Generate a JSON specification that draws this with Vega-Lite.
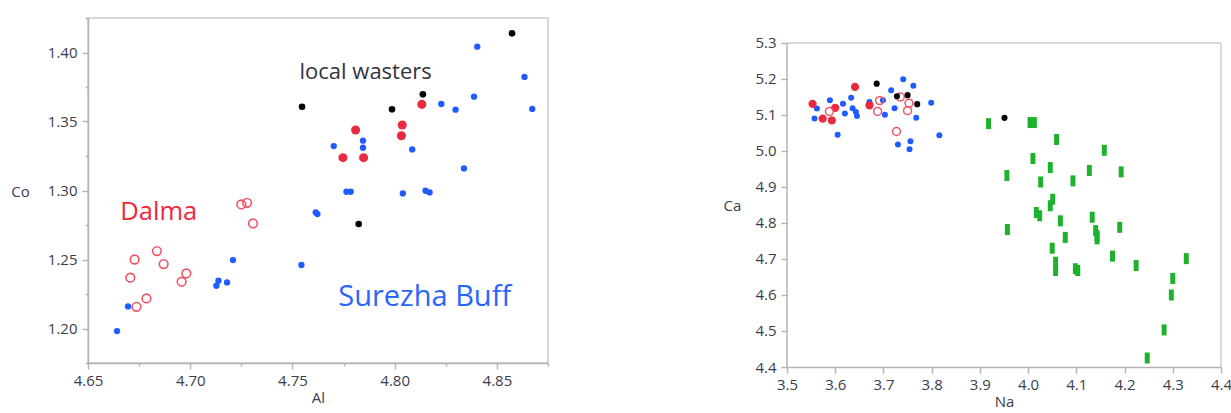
{
  "$schema": "https://vega.github.io/schema/vega-lite/v6.json",
  "padding": {"left": 10, "top": 16, "right": 0, "bottom": 0},
  "spacing": 173,
  "config": {
    "font": "Open Sans",
    "view": {"stroke": "#cccccc", "strokeWidth": 1.5},
    "axis": {
      "grid": false,
      "domainColor": "#b4b4b4",
      "domainWidth": 1.5,
      "tickColor": "#b4b4b4",
      "tickWidth": 1.5,
      "labelColor": "#3c3c4c",
      "titleColor": "#3c3c4c",
      "labelFontSize": 15,
      "titleFontSize": 15,
      "titleFontWeight": "normal",
      "labelFont": "Open Sans",
      "titleFont": "Open Sans"
    }
  },
  "datasets": {
    "left": [
      {"Al": 4.6642, "Co": 1.1981, "group": "Surezha Buff"},
      {"Al": 4.6696, "Co": 1.2160, "group": "Surezha Buff"},
      {"Al": 4.7128, "Co": 1.2310, "group": "Surezha Buff"},
      {"Al": 4.7138, "Co": 1.2346, "group": "Surezha Buff"},
      {"Al": 4.7180, "Co": 1.2334, "group": "Surezha Buff"},
      {"Al": 4.7209, "Co": 1.2496, "group": "Surezha Buff"},
      {"Al": 4.7544, "Co": 1.2460, "group": "Surezha Buff"},
      {"Al": 4.7764, "Co": 1.2991, "group": "Surezha Buff"},
      {"Al": 4.7785, "Co": 1.2991, "group": "Surezha Buff"},
      {"Al": 4.7614, "Co": 1.2841, "group": "Surezha Buff"},
      {"Al": 4.7622, "Co": 1.2829, "group": "Surezha Buff"},
      {"Al": 4.8040, "Co": 1.2979, "group": "Surezha Buff"},
      {"Al": 4.8151, "Co": 1.2998, "group": "Surezha Buff"},
      {"Al": 4.8171, "Co": 1.2986, "group": "Surezha Buff"},
      {"Al": 4.8404, "Co": 1.4042, "group": "Surezha Buff"},
      {"Al": 4.8635, "Co": 1.3823, "group": "Surezha Buff"},
      {"Al": 4.8673, "Co": 1.3591, "group": "Surezha Buff"},
      {"Al": 4.8388, "Co": 1.3680, "group": "Surezha Buff"},
      {"Al": 4.8228, "Co": 1.3627, "group": "Surezha Buff"},
      {"Al": 4.8298, "Co": 1.3586, "group": "Surezha Buff"},
      {"Al": 4.7702, "Co": 1.3322, "group": "Surezha Buff"},
      {"Al": 4.7845, "Co": 1.3361, "group": "Surezha Buff"},
      {"Al": 4.7845, "Co": 1.3310, "group": "Surezha Buff"},
      {"Al": 4.8086, "Co": 1.3298, "group": "Surezha Buff"},
      {"Al": 4.8339, "Co": 1.3160, "group": "Surezha Buff"},
      {"Al": 4.8133, "Co": 1.3624, "group": "red"},
      {"Al": 4.7809, "Co": 1.3438, "group": "red"},
      {"Al": 4.8037, "Co": 1.3475, "group": "red"},
      {"Al": 4.8033, "Co": 1.3397, "group": "red"},
      {"Al": 4.7747, "Co": 1.3238, "group": "red"},
      {"Al": 4.7848, "Co": 1.3238, "group": "red"},
      {"Al": 4.6707, "Co": 1.2368, "group": "Dalma"},
      {"Al": 4.6728, "Co": 1.2500, "group": "Dalma"},
      {"Al": 4.6737, "Co": 1.2157, "group": "Dalma"},
      {"Al": 4.6786, "Co": 1.2218, "group": "Dalma"},
      {"Al": 4.6837, "Co": 1.2561, "group": "Dalma"},
      {"Al": 4.6870, "Co": 1.2467, "group": "Dalma"},
      {"Al": 4.6958, "Co": 1.2339, "group": "Dalma"},
      {"Al": 4.6981, "Co": 1.2399, "group": "Dalma"},
      {"Al": 4.7250, "Co": 1.2899, "group": "Dalma"},
      {"Al": 4.7278, "Co": 1.2911, "group": "Dalma"},
      {"Al": 4.7307, "Co": 1.2761, "group": "Dalma"},
      {"Al": 4.8574, "Co": 1.4139, "group": "local wasters"},
      {"Al": 4.8138, "Co": 1.3697, "group": "local wasters"},
      {"Al": 4.7547, "Co": 1.3607, "group": "local wasters"},
      {"Al": 4.7987, "Co": 1.3588, "group": "local wasters"},
      {"Al": 4.7824, "Co": 1.2757, "group": "local wasters"}
    ],
    "leftLabels": [
      {"Al": 4.7858, "Co": 1.3861, "label": "local wasters"},
      {"Al": 4.6846, "Co": 1.2846, "label": "Dalma"},
      {"Al": 4.8147, "Co": 1.2230, "label": "Surezha Buff"}
    ],
    "rightFrame": [
      {"edge": "top", "Na": 3.5, "Na2": 4.4, "Ca": 5.3, "Ca2": 5.3},
      {"edge": "right", "Na": 4.4, "Na2": 4.4, "Ca": 4.4, "Ca2": 5.3},
      {"edge": "left", "Na": 3.5, "Na2": 3.5, "Ca": 4.4, "Ca2": 5.3}
    ],
    "right": [
      {"Na": 3.562, "Ca": 5.118, "group": "Surezha Buff"},
      {"Na": 3.557, "Ca": 5.090, "group": "Surezha Buff"},
      {"Na": 3.589, "Ca": 5.141, "group": "Surezha Buff"},
      {"Na": 3.616, "Ca": 5.131, "group": "Surezha Buff"},
      {"Na": 3.633, "Ca": 5.148, "group": "Surezha Buff"},
      {"Na": 3.605, "Ca": 5.045, "group": "Surezha Buff"},
      {"Na": 3.620, "Ca": 5.104, "group": "Surezha Buff"},
      {"Na": 3.636, "Ca": 5.119, "group": "Surezha Buff"},
      {"Na": 3.643, "Ca": 5.108, "group": "Surezha Buff"},
      {"Na": 3.645, "Ca": 5.097, "group": "Surezha Buff"},
      {"Na": 3.671, "Ca": 5.136, "group": "Surezha Buff"},
      {"Na": 3.699, "Ca": 5.141, "group": "Surezha Buff"},
      {"Na": 3.703, "Ca": 5.101, "group": "Surezha Buff"},
      {"Na": 3.716, "Ca": 5.169, "group": "Surezha Buff"},
      {"Na": 3.741, "Ca": 5.199, "group": "Surezha Buff"},
      {"Na": 3.762, "Ca": 5.181, "group": "Surezha Buff"},
      {"Na": 3.723, "Ca": 5.119, "group": "Surezha Buff"},
      {"Na": 3.768, "Ca": 5.092, "group": "Surezha Buff"},
      {"Na": 3.799, "Ca": 5.134, "group": "Surezha Buff"},
      {"Na": 3.730, "Ca": 5.018, "group": "Surezha Buff"},
      {"Na": 3.756, "Ca": 5.027, "group": "Surezha Buff"},
      {"Na": 3.754, "Ca": 5.005, "group": "Surezha Buff"},
      {"Na": 3.816, "Ca": 5.044, "group": "Surezha Buff"},
      {"Na": 3.553, "Ca": 5.131, "group": "red"},
      {"Na": 3.574, "Ca": 5.090, "group": "red"},
      {"Na": 3.593, "Ca": 5.085, "group": "red"},
      {"Na": 3.600, "Ca": 5.120, "group": "red"},
      {"Na": 3.641, "Ca": 5.178, "group": "red"},
      {"Na": 3.671, "Ca": 5.127, "group": "red"},
      {"Na": 3.588, "Ca": 5.110, "group": "Dalma"},
      {"Na": 3.688, "Ca": 5.110, "group": "Dalma"},
      {"Na": 3.692, "Ca": 5.140, "group": "Dalma"},
      {"Na": 3.727, "Ca": 5.054, "group": "Dalma"},
      {"Na": 3.735, "Ca": 5.150, "group": "Dalma"},
      {"Na": 3.750, "Ca": 5.112, "group": "Dalma"},
      {"Na": 3.753, "Ca": 5.133, "group": "Dalma"},
      {"Na": 3.686, "Ca": 5.187, "group": "local wasters"},
      {"Na": 3.728, "Ca": 5.152, "group": "local wasters"},
      {"Na": 3.750, "Ca": 5.155, "group": "local wasters"},
      {"Na": 3.770, "Ca": 5.130, "group": "local wasters"},
      {"Na": 3.951, "Ca": 5.092, "group": "local wasters"},
      {"Na": 3.918, "Ca": 5.076, "group": "green"},
      {"Na": 4.004, "Ca": 5.079, "group": "green"},
      {"Na": 4.013, "Ca": 5.079, "group": "green"},
      {"Na": 4.059, "Ca": 5.032, "group": "green"},
      {"Na": 4.158, "Ca": 5.002, "group": "green"},
      {"Na": 4.010, "Ca": 4.979, "group": "green"},
      {"Na": 4.046, "Ca": 4.954, "group": "green"},
      {"Na": 4.127, "Ca": 4.946, "group": "green"},
      {"Na": 4.193, "Ca": 4.942, "group": "green"},
      {"Na": 3.956, "Ca": 4.932, "group": "green"},
      {"Na": 4.026, "Ca": 4.914, "group": "green"},
      {"Na": 4.093, "Ca": 4.917, "group": "green"},
      {"Na": 4.051, "Ca": 4.866, "group": "green"},
      {"Na": 4.046, "Ca": 4.848, "group": "green"},
      {"Na": 4.017, "Ca": 4.829, "group": "green"},
      {"Na": 4.024, "Ca": 4.820, "group": "green"},
      {"Na": 4.067, "Ca": 4.806, "group": "green"},
      {"Na": 4.133, "Ca": 4.816, "group": "green"},
      {"Na": 4.140, "Ca": 4.779, "group": "green"},
      {"Na": 4.143, "Ca": 4.765, "group": "green"},
      {"Na": 4.143, "Ca": 4.756, "group": "green"},
      {"Na": 4.190, "Ca": 4.788, "group": "green"},
      {"Na": 3.957, "Ca": 4.782, "group": "green"},
      {"Na": 4.077, "Ca": 4.760, "group": "green"},
      {"Na": 4.050, "Ca": 4.730, "group": "green"},
      {"Na": 4.057, "Ca": 4.691, "group": "green"},
      {"Na": 4.057, "Ca": 4.668, "group": "green"},
      {"Na": 4.098, "Ca": 4.673, "group": "green"},
      {"Na": 4.103, "Ca": 4.668, "group": "green"},
      {"Na": 4.175, "Ca": 4.708, "group": "green"},
      {"Na": 4.224, "Ca": 4.682, "group": "green"},
      {"Na": 4.328, "Ca": 4.701, "group": "green"},
      {"Na": 4.300, "Ca": 4.646, "group": "green"},
      {"Na": 4.297, "Ca": 4.600, "group": "green"},
      {"Na": 4.282, "Ca": 4.503, "group": "green"},
      {"Na": 4.247, "Ca": 4.425, "group": "green"}
    ]
  },
  "hconcat": [
    {
      "width": 460,
      "height": 345,
      "encoding": {
        "x": {
          "field": "Al", "type": "quantitative",
          "scale": {"domain": [4.65, 4.875], "nice": false, "zero": false},
          "axis": {
            "title": "Al",
            "values": [4.65, 4.675, 4.7, 4.725, 4.75, 4.775, 4.8, 4.825, 4.85, 4.875],
            "labelExpr": "round(datum.value*40) % 2 == 0 ? format(datum.value, '.2f') : ''",
            "tickSize": {"condition": {"test": "round(datum.value*40) % 2 == 1", "value": 3}, "value": 6},
            "labelFlush": false,
            "labelPadding": 4,
            "titlePadding": 2
          }
        },
        "y": {
          "field": "Co", "type": "quantitative",
          "scale": {"domain": [1.175, 1.425], "nice": false, "zero": false},
          "axis": {
            "title": "Co",
            "values": [1.175, 1.2, 1.225, 1.25, 1.275, 1.3, 1.325, 1.35, 1.375, 1.4, 1.425],
            "labelExpr": "round(datum.value*40) % 2 == 0 ? format(datum.value, '.2f') : ''",
            "tickSize": {"condition": {"test": "round(datum.value*40) % 2 == 1", "value": 3}, "value": 6},
            "labelPadding": 5,
            "titleAngle": 0,
            "titleAlign": "center",
            "titleBaseline": "middle",
            "titleX": -68,
            "titleY": 173
          }
        }
      },
      "layer": [
        {
          "data": {"name": "left"},
          "transform": [{"filter": "datum.group == 'Surezha Buff'"}],
          "mark": {"type": "point", "shape": "circle", "filled": true, "color": "#1f5cff", "opacity": 1, "size": 40}
        },
        {
          "data": {"name": "left"},
          "transform": [{"filter": "datum.group == 'red'"}],
          "mark": {"type": "point", "shape": "circle", "filled": true, "color": "#ea2a3f", "opacity": 1, "size": 82}
        },
        {
          "data": {"name": "left"},
          "transform": [{"filter": "datum.group == 'Dalma'"}],
          "mark": {"type": "point", "shape": "circle", "filled": false, "color": "#ef5566", "opacity": 1, "size": 75, "strokeWidth": 1.6}
        },
        {
          "data": {"name": "left"},
          "transform": [{"filter": "datum.group == 'local wasters'"}],
          "mark": {"type": "point", "shape": "circle", "filled": true, "color": "#000000", "opacity": 1, "size": 44}
        },
        {
          "data": {"name": "leftLabels"},
          "mark": {"type": "text", "font": "Open Sans", "align": "center", "baseline": "middle"},
          "encoding": {
            "text": {"field": "label"},
            "color": {"field": "label", "type": "nominal", "scale": {"domain": ["local wasters", "Dalma", "Surezha Buff"], "range": ["#333340", "#f0283c", "#2a64ff"]}, "legend": null},
            "size": {"field": "label", "type": "nominal", "scale": {"domain": ["local wasters", "Dalma", "Surezha Buff"], "range": [22, 29, 27]}, "legend": null}
          }
        }
      ]
    },
    {
      "width": 434,
      "height": 349,
      "view": {"stroke": null},
      "encoding": {
        "x": {
          "field": "Na", "type": "quantitative",
          "scale": {"domain": [3.5, 4.4], "nice": false, "zero": false},
          "axis": {
            "title": "Na",
            "values": [3.5, 3.6, 3.7, 3.8, 3.9, 4.0, 4.1, 4.2, 4.3, 4.4],
            "format": ".1f",
            "tickSize": 6,
            "labelFlush": false,
            "labelPadding": 4,
            "titlePadding": 2
          }
        },
        "y": {
          "field": "Ca", "type": "quantitative",
          "scale": {"domain": [4.4, 5.3694], "nice": false, "zero": false},
          "axis": {
            "title": "Ca",
            "values": [4.4, 4.5, 4.6, 4.7, 4.8, 4.9, 5.0, 5.1, 5.2, 5.3],
            "format": ".1f",
            "tickSize": 6,
            "domain": false,
            "labelPadding": 5,
            "titleAngle": 0,
            "titleAlign": "center",
            "titleBaseline": "middle",
            "titleX": -55,
            "titleY": 187
          }
        }
      },
      "layer": [
        {
          "data": {"name": "rightFrame"},
          "transform": [{"filter": "datum.edge != 'left'"}],
          "mark": {"type": "rule", "strokeWidth": 1.5, "color": "#cccccc"},
          "encoding": {
            "x2": {"field": "Na2"},
            "y2": {"field": "Ca2"}
          }
        },
        {
          "data": {"name": "rightFrame"},
          "transform": [{"filter": "datum.edge == 'left'"}],
          "mark": {"type": "rule", "strokeWidth": 1.5, "color": "#b4b4b4"},
          "encoding": {
            "x2": {"field": "Na2"},
            "y2": {"field": "Ca2"}
          }
        },
        {
          "data": {"name": "right"},
          "transform": [{"filter": "datum.group == 'green'"}],
          "mark": {"type": "point", "shape": "M-0.45,-1H0.45V1H-0.45Z", "filled": true, "color": "#1cb22c", "opacity": 1, "size": 121}
        },
        {
          "data": {"name": "right"},
          "transform": [{"filter": "datum.group == 'Surezha Buff'"}],
          "mark": {"type": "point", "shape": "circle", "filled": true, "color": "#1f5cff", "opacity": 1, "size": 36}
        },
        {
          "data": {"name": "right"},
          "transform": [{"filter": "datum.group == 'red'"}],
          "mark": {"type": "point", "shape": "circle", "filled": true, "color": "#ea2a3f", "opacity": 1, "size": 68}
        },
        {
          "data": {"name": "right"},
          "transform": [{"filter": "datum.group == 'Dalma'"}],
          "mark": {"type": "point", "shape": "circle", "filled": false, "color": "#ef5566", "opacity": 1, "size": 62, "strokeWidth": 1.5}
        },
        {
          "data": {"name": "right"},
          "transform": [{"filter": "datum.group == 'local wasters'"}],
          "mark": {"type": "point", "shape": "circle", "filled": true, "color": "#000000", "opacity": 1, "size": 38}
        }
      ]
    }
  ]
}
